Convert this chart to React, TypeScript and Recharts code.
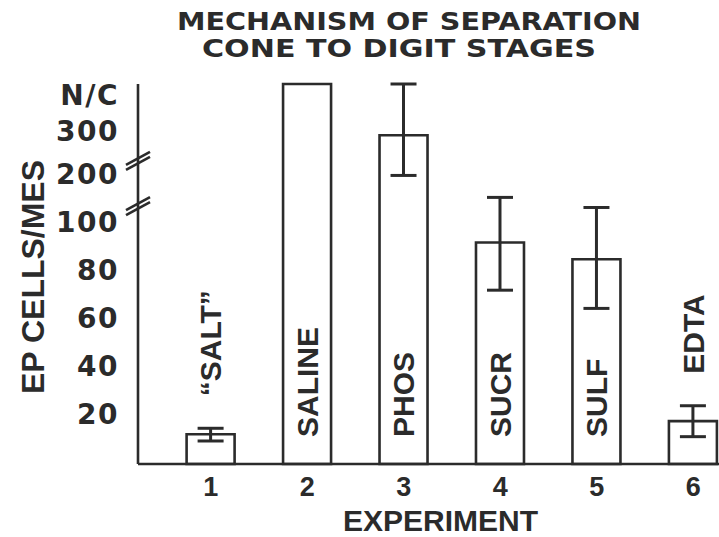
import { Bar, BarChart, ErrorBar, Label, LabelList, XAxis, YAxis } from "recharts";

// values; "N/C" = not countable (top of the broken axis)
const NC = "N/C";
const experiments = [1, 2, 3, 4, 5, 6];
const treatments = ["\u201CSALT\u201D", "SALINE", "PHOS", "SUCR", "SULF", "EDTA"];
const means: (number | string)[] = [12.4, NC, 295, 92.4, 85.4, 17.9];
const errLow: (number | null)[] = [9.6, null, 202, 72.5, 64.9, 11.4];
const errHigh: (number | string | null)[] = [14.9, null, NC, 156, 135, 24.3];
const yTickValues: (number | string)[] = [20, 40, 60, 80, 100, 200, 300, NC];

const INK = "#2b2b2b";
const Y_TOP = 158.5;
const NC_TICK = 153;
const BREAKS = [107.6, 126.4];

// broken axis: 0-100 linear, then 100-200 and 200-300 compressed
function toAxis(v: number | string): number {
  if (v === NC) return Y_TOP;
  const n = v as number;
  if (n <= 100) return n;
  if (n <= 200) return 100 + (n - 100) * 0.2;
  return 120 + (n - 200) * 0.18;
}

const tickPos = yTickValues.map((v) => (v === NC ? NC_TICK : toAxis(v)));

const data = experiments.map((x, i) => {
  const m = toAxis(means[i]);
  const lo = errLow[i];
  const hi = errHigh[i];
  return {
    x,
    name: treatments[i],
    value: m,
    err: lo == null || hi == null ? null : [m - toAxis(lo), toAxis(hi) - m],
  };
});

function YTick({ x, y, payload }: any) {
  const v = payload.value;
  if (BREAKS.includes(v)) {
    const ax = x + 19;
    return (
      <g stroke={INK} strokeWidth={2.6}>
        <line x1={ax - 12} y1={y + 4} x2={ax + 12} y2={y - 9} />
        <line x1={ax - 12} y1={y + 9} x2={ax + 12} y2={y - 4} />
      </g>
    );
  }
  const idx = tickPos.indexOf(v);
  return (
    <text
      x={x}
      y={y - 2}
      dy="0.36em"
      textAnchor="end"
      fill={INK}
      fontFamily="DejaVu Sans"
      fontWeight={700}
      fontSize={28}
      letterSpacing={1.5}
    >
      {String(yTickValues[idx])}
    </text>
  );
}

function BarName(props: any) {
  const { x, y, width, height, value } = props;
  const d = data.find((r) => r.name === value);
  if (!d) return null;
  const cx = x + width / 2;
  const base = y + height;
  let bottom = base - 27;
  if (height < 100) {
    const perUnit = height / d.value;
    const errTop = y - (d.err ? d.err[1] : 0) * perUnit;
    bottom = errTop - 32;
  }
  return (
    <text
      x={cx}
      y={bottom}
      dy="0.36em"
      transform={`rotate(-90 ${cx} ${bottom})`}
      textAnchor="start"
      fill={INK}
      fontFamily="Liberation Sans"
      fontWeight={700}
      fontSize={30}
    >
      {value}
    </text>
  );
}

function XTitle({ viewBox }: any) {
  return (
    <text
      x={viewBox.x + viewBox.width / 2 + 12}
      y={530.5}
      textAnchor="middle"
      fill={INK}
      fontFamily="Liberation Sans"
      fontWeight={700}
      fontSize={30}
    >
      EXPERIMENT
    </text>
  );
}

export default function App() {
  return (
    <div style={{ position: "fixed", left: 0, top: 0, width: 719, height: 537, background: "#fff" }}>
      <svg width={719} height={80} style={{ position: "absolute", left: 0, top: 0 }}>
        <g fill={INK} fontFamily="DejaVu Sans" fontWeight={700} fontSize={25} textAnchor="middle">
          <text x={409} y={30} textLength={464} lengthAdjust="spacingAndGlyphs">
            MECHANISM OF SEPARATION
          </text>
          <text x={399} y={57} textLength={394} lengthAdjust="spacingAndGlyphs">
            CONE TO DIGIT STAGES
          </text>
        </g>
      </svg>
      <div style={{ position: "absolute", left: 0, top: 0 }}>
        <BarChart width={719} height={537} data={data} margin={{ top: 84, right: 0, bottom: 0, left: 0 }}>
          <XAxis
            type="number"
            dataKey="x"
            domain={[0.245, 6.268]}
            ticks={experiments}
            interval={0}
            allowDataOverflow
            height={73}
            tickSize={0}
            tickMargin={13}
            axisLine={{ stroke: INK, strokeWidth: 2.6 }}
            tick={{ fill: INK, fontFamily: "Liberation Sans", fontWeight: 700, fontSize: 27 }}
          >
            <Label content={XTitle} />
          </XAxis>
          <YAxis
            type="number"
            domain={[0, Y_TOP]}
            ticks={[...tickPos, ...BREAKS]}
            interval={0}
            width={138}
            tickSize={0}
            tickMargin={19}
            tickLine={false}
            axisLine={{ stroke: INK, strokeWidth: 2.6 }}
            tick={<YTick />}
          >
            <Label
              value="EP CELLS/MES"
              angle={-90}
              position="center"
              dx={-36}
              dy={3}
              fill={INK}
              fontFamily="Liberation Sans"
              fontWeight={700}
              fontSize={32}
            />
          </YAxis>
          <Bar dataKey="value" barSize={48} fill="#fff" stroke={INK} strokeWidth={2.6} isAnimationActive={false}>
            <ErrorBar dataKey="err" width={13} stroke={INK} strokeWidth={3} direction="y" isAnimationActive={false} />
            <LabelList dataKey="name" content={BarName} />
          </Bar>
        </BarChart>
      </div>
    </div>
  );
}
